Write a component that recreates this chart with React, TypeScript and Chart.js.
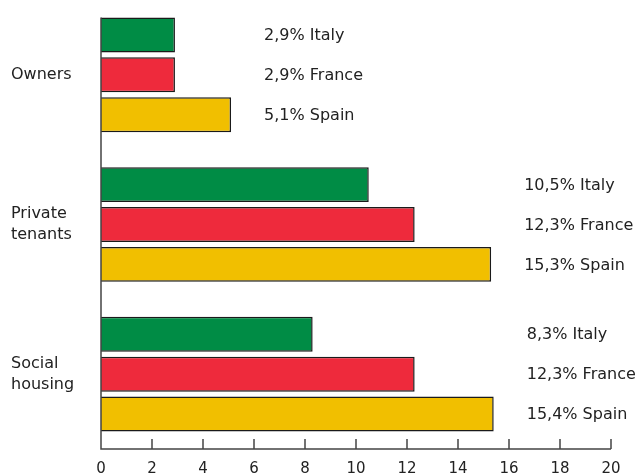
import { useEffect, useRef } from "react";
import { Chart, registerables } from "chart.js";

Chart.register(...registerables);

const categories: string[][] = [["Owners"], ["Private", "tenants"], ["Social", "housing"]];
const countries = ["Italy", "France", "Spain"];
const italyValues = [2.9, 10.5, 8.3];
const franceValues = [2.9, 12.3, 12.3];
const spainValues = [5.1, 15.3, 15.4];
const xTickValues = [0, 2, 4, 6, 8, 10, 12, 14, 16, 18, 20];

const COLORS = ["#008C45", "#EE2A3C", "#F1BF00"];
const FONT = "'DejaVu Sans', 'Noto Sans', sans-serif";
const TEXT = "#222222";
const AXIS = "#444444";

const fmt = (v: number) => v.toFixed(1).replace(".", ",") + "%";

const overlay = {
  id: "overlay",
  afterDatasetsDraw(chart: any) {
    const ctx: CanvasRenderingContext2D = chart.ctx;
    const { left, right, bottom } = chart.chartArea;
    const xs = chart.scales.x;
    ctx.save();
    const first = chart.getDatasetMeta(0).data[0];
    const topY = first.y - first.height / 2;
    ctx.strokeStyle = AXIS;
    ctx.lineWidth = 1.5;
    ctx.beginPath();
    ctx.moveTo(left, topY);
    ctx.lineTo(left, bottom);
    ctx.lineTo(right, bottom);
    xs.ticks.forEach((t: any) => {
      const px = xs.getPixelForValue(t.value);
      ctx.moveTo(px, bottom - 10);
      ctx.lineTo(px, bottom);
    });
    ctx.stroke();

    ctx.fillStyle = TEXT;
    ctx.font = `16px ${FONT}`;
    ctx.textAlign = "left";
    ctx.textBaseline = "middle";
    const nCat = chart.data.labels.length;
    for (let i = 0; i < nCat; i++) {
      let maxX = left;
      chart.data.datasets.forEach((_: any, d: number) => {
        const el = chart.getDatasetMeta(d).data[i];
        if (el.x > maxX) maxX = el.x;
      });
      const lx = maxX + 33;
      chart.data.datasets.forEach((ds: any, d: number) => {
        const el = chart.getDatasetMeta(d).data[i];
        ctx.fillText(`${fmt(ds.data[i])} ${ds.label}`, lx, el.y + 1);
      });
    }
    ctx.restore();
  },
};

export default function App() {
  const ref = useRef<HTMLCanvasElement | null>(null);
  useEffect(() => {
    if (!ref.current) return;
    const chart = new Chart(ref.current, {
      type: "bar",
      data: {
        labels: categories,
        datasets: [italyValues, franceValues, spainValues].map((vals, i) => ({
          label: countries[i],
          data: vals,
          backgroundColor: COLORS[i],
          borderColor: "#1a1a1a",
          borderWidth: 1.5,
          categoryPercentage: 0.8,
          barPercentage: 0.875,
        })),
      },
      options: {
        indexAxis: "y",
        animation: false,
        responsive: true,
        maintainAspectRatio: false,
        layout: { padding: { left: 11, right: 27, top: 0, bottom: 0 } },
        plugins: { legend: { display: false }, tooltip: { enabled: false } },
        scales: {
          x: {
            type: "linear",
            min: 0,
            max: 20,
            afterBuildTicks: (s: any) => {
              s.ticks = xTickValues.map((v) => ({ value: v }));
            },
            afterFit: (s: any) => {
              s.height = 27;
              s.paddingLeft = 0;
              s.paddingRight = 0;
            },
            grid: { display: false, drawTicks: false },
            border: { display: false },
            ticks: {
              color: TEXT,
              font: { family: FONT, size: 15 },
              padding: 11,
              autoSkip: false,
              maxRotation: 0,
            },
          },
          y: {
            afterFit: (s: any) => {
              s.width = 90;
              s.paddingTop = 0;
              s.paddingBottom = 0;
            },
            grid: { display: false, drawTicks: false },
            border: { display: false },
            ticks: {
              color: TEXT,
              crossAlign: "far",
              font: { family: FONT, size: 16, lineHeight: 1.35 },
              padding: 0,
            },
          },
        },
      },
      plugins: [overlay],
    } as any);
    return () => chart.destroy();
  }, []);
  return (
    <div style={{ position: "absolute", left: 0, top: 0, width: 638, height: 476 }}>
      <canvas ref={ref} />
    </div>
  );
}
